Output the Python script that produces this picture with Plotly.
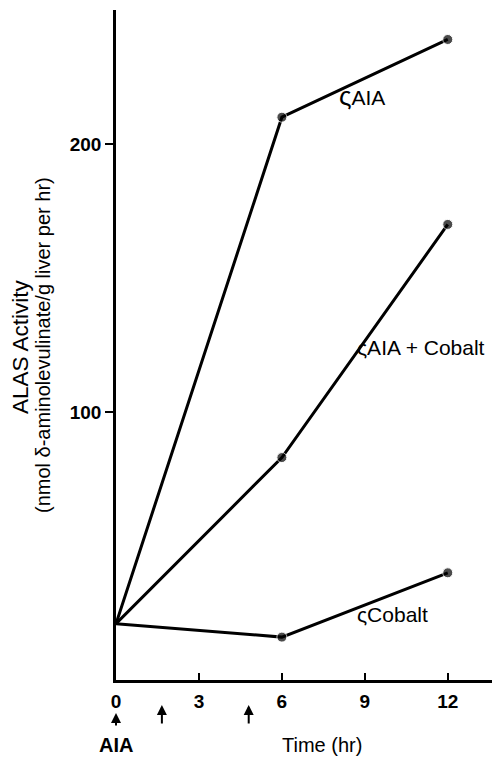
import plotly.graph_objects as go

time_hr = [0, 6, 12]
aia = [21, 210, 239]
aia_cobalt = [21, 83, 170]
cobalt = [21, 16, 40]

x_ticks = [0, 3, 6, 9, 12]
y_ticks = [100, 200]
dose_times = [0, 1.66, 4.8]

series = [("AIA", aia), ("AIA + Cobalt", aia_cobalt), ("Cobalt", cobalt)]
label_pos = {"AIA": (8.0, 218), "AIA + Cobalt": (8.64, 124), "Cobalt": (8.64, 24.5)}

W, H = 496, 758
L, R, T, B = 116, 4, 10, 78
pw = W - L - R
ph = H - T - B

def px_to_paper_x(px):
    return (px - L) / pw

def py_to_paper_y(py):
    return (H - B - py) / ph

fig = go.Figure()
for name, vals in series:
    fig.add_trace(go.Scatter(
        x=time_hr, y=vals, mode="lines+markers", name=name,
        line=dict(color="black", width=3),
        marker=dict(color="black", size=[0, 10, 10]),
        showlegend=False, cliponaxis=False))

font = "Liberation Sans, Arial, Helvetica, sans-serif"
ann = []
for name, _ in series:
    x, y = label_pos[name]
    sq = "<span style='font-size:26px'>ς</span>" if name == "AIA" else "ς"
    ann.append(dict(x=x, y=y, xref="x", yref="y", text=sq + name, showarrow=False,
                    xanchor="left", yanchor="middle",
                    font=dict(family=font, size=21, color="black")))

# y-axis title (two lines)
ann.append(dict(x=px_to_paper_x(21), y=py_to_paper_y(347), xref="paper", yref="paper",
                text="ALAS Activity", textangle=-90, showarrow=False,
                xanchor="center", yanchor="middle",
                font=dict(family=font, size=22.5, color="black")))
ann.append(dict(x=px_to_paper_x(43), y=py_to_paper_y(345), xref="paper", yref="paper",
                text="(nmol δ-aminolevulinate/g liver per hr)", textangle=-90, showarrow=False,
                xanchor="center", yanchor="middle",
                font=dict(family=font, size=20, color="black")))

# dose arrows below the x axis
for i, t in enumerate(dose_times):
    tip = 713 if i == 0 else 705
    ann.append(dict(x=t, y=py_to_paper_y(tip), xref="x", yref="paper", text="",
                    showarrow=True, ax=0, ay=(14 if i == 0 else 20),
                    arrowhead=2, arrowsize=1, arrowwidth=2, arrowcolor="black"))

ann.append(dict(x=0, y=py_to_paper_y(745), xref="x", yref="paper", text="<b>AIA</b>",
                showarrow=False, xanchor="center", yanchor="middle",
                font=dict(family=font, size=20, color="black")))
ann.append(dict(x=px_to_paper_x(322), y=py_to_paper_y(745), xref="paper", yref="paper",
                text="Time (hr)", showarrow=False, xanchor="center", yanchor="middle",
                font=dict(family=font, size=20, color="black")))

fig.update_layout(
    width=W, height=H, margin=dict(l=L, r=R, t=T, b=B),
    paper_bgcolor="white", plot_bgcolor="white",
    annotations=ann,
    xaxis=dict(range=[0, 13.6], tickvals=x_ticks, ticktext=[str(v) for v in x_ticks],
               ticks="inside", ticklen=7, tickwidth=2, tickcolor="black",
               showline=True, linecolor="black", linewidth=2.5,
               showgrid=False, zeroline=False, ticklabelstandoff=2,
               tickfont=dict(family=font, size=19, color="black", weight="bold")),
    yaxis=dict(range=[0, 250], tickvals=y_ticks, ticktext=[str(v) for v in y_ticks],
               ticks="outside", ticklen=8, tickwidth=2, tickcolor="black",
               showline=True, linecolor="black", linewidth=2.5,
               showgrid=False, zeroline=False,
               tickfont=dict(family=font, size=19, color="black", weight="bold")),
)

fig.write_html("out.html", config={"displayModeBar": False},
               post_script="document.body.style.margin='0px';")
